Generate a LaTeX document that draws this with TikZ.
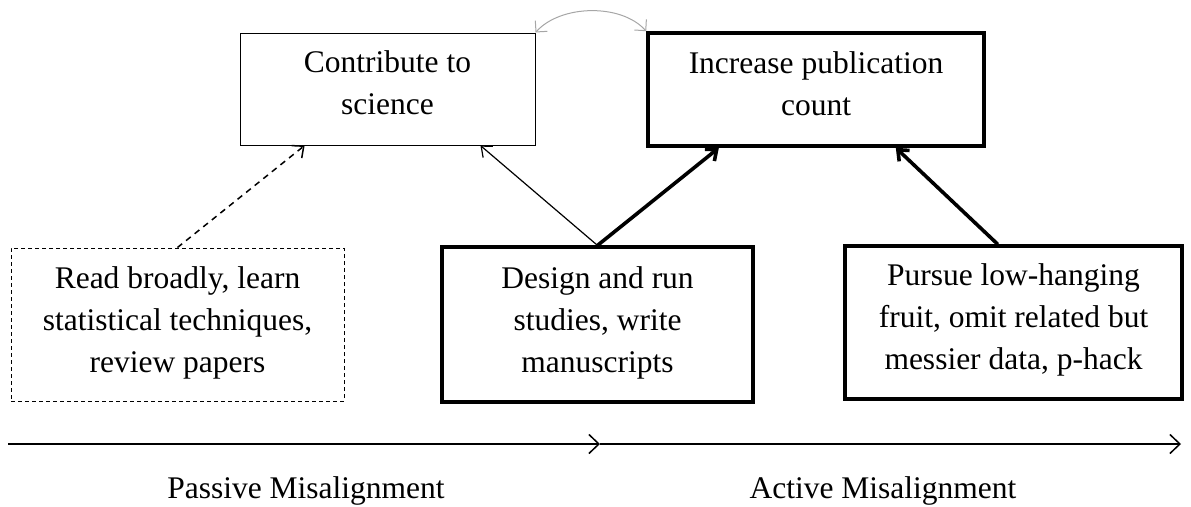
\documentclass[tikz,border=0pt]{standalone}
\usepackage{fontspec}
\setmainfont{Liberation Serif}
\usetikzlibrary{arrows.meta,calc}

\tikzset{
  x=1pt, y=-1pt,
  every node/.style={font=\fontsize{31.5}{42}\selectfont, align=center, inner sep=0pt},
  box/.style={draw, rectangle, line width=#1},
  box/.default=1pt,
  boxtext/.style={text=black},
  thinlink/.style={line width=1.2pt, -{Straight Barb[length=9pt,width=15pt,line width=1.2pt]}},
  thicklink/.style={line width=3.6pt, -{Straight Barb[length=9pt,width=15pt,line width=3.6pt]}},
  dashlink/.style={line width=1.5pt, dash pattern=on 6pt off 5pt,
    -{Straight Barb[length=9pt,width=16pt,line width=1.5pt]}},
  tieline/.style={draw=black!35, line width=1pt,
    {Straight Barb[length=8pt,width=16pt,line width=1pt]}-{Straight Barb[length=8pt,width=16pt,line width=1pt]}},
  axisline/.style={line width=1.8pt, -{Straight Barb[length=10pt,width=19pt,line width=1.5pt]}},
}

\begin{document}
\begin{tikzpicture}
\useasboundingbox (0,0) rectangle (1191,506);

% goal boxes
\node[box=1pt, minimum width=295pt, minimum height=112pt] (contribute) at (387.5,89) {};
\node[boxtext] (contribute-text) at ($(contribute.center)+(0,-6)$) {Contribute to\\science};

\node[box=3.6pt, minimum width=336pt, minimum height=113pt] (increase) at (816,89.5) {};
\node[boxtext] (increase-text) at ($(increase.center)+(0,-6)$) {Increase publication\\count};

% behaviour boxes
\node[draw, line width=1pt, dash pattern=on 4pt off 3pt, minimum width=333pt, minimum height=153pt] (read) at (177.5,324.5) {};
\node[boxtext] (read-text) at ($(read.center)+(0,-2)$) {Read broadly, learn\\statistical techniques,\\review papers};

\node[box=3.2pt, minimum width=311pt, minimum height=155pt] (design) at (597.5,324.5) {};
\node[boxtext] (design-text) at ($(design.center)+(0,-2)$) {Design and run\\studies, write\\manuscripts};

\node[box=3.2pt, minimum width=337pt, minimum height=153pt] (pursue) at (1013.5,322.5) {};
\node[boxtext] (pursue-text) at ($(pursue.center)+(0,-3)$) {Pursue low-hanging\\fruit, omit related but\\messier data, p-hack};

% links between behaviours and goals
\draw[dashlink] (read.north) -- ($(contribute.south west)!0.22!(contribute.south east)$);
\draw[thinlink] (design.north) -- ($(contribute.south west)!0.814!(contribute.south east)$);
\draw[thicklink] (design.north) -- ($(increase.south west)!0.214!(increase.south east)$);
\draw[thicklink] ($(pursue.north west)!0.454!(pursue.north east)$) -- ($(increase.south west)!0.735!(increase.south east)$);

% tension between the two goals
\draw[tieline] (contribute.north east) .. controls +(25,-28) and +(-25,-28) .. (increase.north west);

% misalignment scale
\coordinate (s0) at (8,444);
\coordinate (s1) at (600,444);
\coordinate (s2) at (1181,444);
\draw[axisline] (s0) -- (s1);
\draw[axisline] (s1) -- (s2);
\node (passive) at (306,491) {Passive Misalignment};
\node (active) at (883,491) {Active Misalignment};
\end{tikzpicture}
\end{document}
